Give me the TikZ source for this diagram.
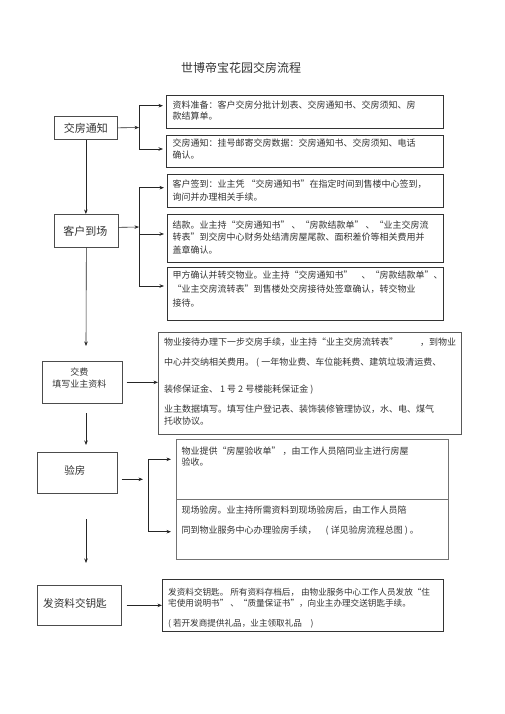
\documentclass[tikz,border=0pt]{standalone}
\usepackage{fontspec}
\setmainfont{Noto Sans CJK SC}
\usetikzlibrary{arrows.meta}
\tikzset{
  lbox/.style={draw=black!70, line width=0.7pt, rectangle, inner sep=0pt, anchor=north west},
  rbox/.style={draw=black!80, line width=0.8pt, rectangle, inner sep=0pt, anchor=north west},
  txt/.style={anchor=north west, inner sep=0pt, align=left, text=black!80},
  ln/.style={draw=black!85, line width=0.6pt},
  arr/.style={ln, -{Stealth[length=4.5pt,width=3.5pt]}},
}
\begin{document}
\begin{tikzpicture}[x=1pt,y=-1pt]
\useasboundingbox[fill=white] (0,0) rectangle (505,714);
% title
\node[inner sep=0pt, font=\fontsize{12}{14}\selectfont, text=black!80] (title) at (241,68) {世博帝宝花园交房流程};

% left boxes
\node[lbox, minimum width=63pt, minimum height=23pt] (L1) at (54,116) {};
\node[inner sep=0pt, font=\fontsize{11}{13}\selectfont, text=black!80] (L1t) at (L1.center) {交房通知};
\node[lbox, minimum width=64pt, minimum height=33pt] (L2) at (54,214) {};
\node[inner sep=0pt, font=\fontsize{11}{13}\selectfont, text=black!80] (L2t) at ([xshift=-1pt]L2.center) {客户到场};
\node[lbox, minimum width=80pt, minimum height=42pt] (L3) at (42,361) {};
\node[inner sep=0pt, align=center, font=\fontsize{9}{12.3}\selectfont, text=black!80] (L3t) at ([xshift=-3pt,yshift=4pt]L3.center) {交费\\填写业主资料};
\node[lbox, minimum width=80pt, minimum height=41pt] (L4) at (37,452) {};
\node[inner sep=0pt, font=\fontsize{10.5}{12}\selectfont, text=black!80] (L4t) at ([xshift=-2.5pt,yshift=2pt]L4.center) {验房};
\node[lbox, minimum width=84pt, minimum height=40pt] (L5) at (37,585) {};
\node[inner sep=0pt, anchor=west, font=\fontsize{10.6}{12}\selectfont, text=black!80] (L5t) at ([xshift=6pt,yshift=2pt]L5.west) {发资料交钥匙};

% right boxes
\node[rbox, minimum width=277pt, minimum height=33pt] (R1) at (166,95) {};
\node[txt, font=\fontsize{9}{11}\selectfont] (R1t) at (172.5,100.5) {资料准备：客户交房分批计划表、交房通知书、交房须知、房\\款结算单。};
\node[rbox, minimum width=277pt, minimum height=32pt] (R2) at (166,135) {};
\node[txt, font=\fontsize{9}{11.7}\selectfont] (R2t) at (172.5,139) {交房通知：挂号邮寄交房数据：交房通知书、交房须知、电话\\确认。};
\node[rbox, minimum width=276pt, minimum height=33pt] (R3) at (167,174) {};
\node[txt, font=\fontsize{9}{13}\selectfont] (R3t) at (172.5,179.5) {客户签到：业主凭 “交房通知书”在指定时间到售楼中心签到，\\询问并办理相关手续。};
\node[rbox, minimum width=276pt, minimum height=48pt] (R4) at (167,214) {};
\node[txt, font=\fontsize{9}{12.5}\selectfont] (R4t) at (172.5,220.5) {结款。业主持“交房通知书” 、“房款结款单” 、“业主交房流\\转表”到交房中心财务处结清房屋尾款、面积差价等相关费用并\\盖章确认。};
\node[rbox, minimum width=276pt, minimum height=53pt] (R5) at (167,267) {};
\node[txt, font=\fontsize{9}{14}\selectfont] (R5t) at (172.5,270.5) {甲方确认并转交物业。业主持“交房通知书”\quad、“房款结款单”、\\“业主交房流转表”到售楼处交房接待处签章确认，转交物业\\接待。};
\node[rbox, draw=black!65, minimum width=303pt, minimum height=102pt] (R6) at (158,332) {};
\node[txt, font=\fontsize{9}{12}\selectfont] (R6t) at (164,337.5) {物业接待办理下一步交房手续，业主持“业主交房流转表”\hspace{22pt}，到物业\\[8pt]中心并交纳相关费用。 ( 一年物业费、车位能耗费、建筑垃圾清运费、\\[15pt]装修保证金、 1 号 2 号楼能耗保证金 )\\[8pt]业主数据填写。填写住户登记表、装饰装修管理协议，水、电、煤气\\托收协议。};
\node[rbox, draw=black!55, minimum width=272pt, minimum height=60pt] (R7a) at (176,439) {};
\node[rbox, draw=black!55, minimum width=272pt, minimum height=60pt] (R7b) at (176,499) {};
\node[txt, font=\fontsize{9}{11}\selectfont] (R7at) at (181.5,447) {物业提供“房屋验收单” ，由工作人员陪同业主进行房屋\\验收。};
\node[txt, font=\fontsize{9}{20}\selectfont] (R7bt) at (181.5,505.5) {现场验房。业主持所需资料到现场验房后，由工作人员陪\\同到物业服务中心办理验房手续，\quad( 详见验房流程总图 ) 。};
\node[rbox, minimum width=281pt, minimum height=52pt] (R8) at (162,579) {};
\node[txt, font=\fontsize{8.6}{11.6}\selectfont] (R8t) at (168,587.5) {发资料交钥匙。 所有资料存档后， 由物业服务中心工作人员发放“住\\宅使用说明书” 、“质量保证书”，向业主办理交送钥匙手续。\\[8pt]( 若开发商提供礼品，业主领取礼品\quad )};

% main vertical line
\coordinate (v2) at (86,346);
\coordinate (v3a) at (86,413);
\coordinate (v3b) at (86,445);
\coordinate (v4a) at (86,519);
\coordinate (v4b) at (86,563);
\draw[arr] (L1.south) -- (L1.south |- L2.north);
\draw[arr] (L2.south) -- (v2);
\draw[arr] (v3a) -- (v3b);
\draw[arr] (v4a) -- (v4b);

% branch 1
\coordinate (j1) at (139,127.5);
\coordinate (a1) at (139,105.7);
\coordinate (a2) at (139,149);
\draw[arr] (L1.east) -- (j1);
\draw[ln] (a1) -- (a2);
\draw[arr, shorten >=3pt] (a1) -- (a1 -| R1.west);
\draw[arr, shorten >=3pt] (a2) -- (a2 -| R2.west);

% branch 2
\coordinate (j2) at (139,227);
\coordinate (b1) at (139,187.7);
\coordinate (b2) at (139,234);
\coordinate (b3) at (139,286);
\draw[arr] ([yshift=3.5pt]L2.east) -- (j2);
\draw[ln] (b1) -- (b3);
\draw[arr, shorten >=3pt] (b1) -- (b1 -| R3.west);
\draw[arr, shorten >=3pt] (b2) -- (b2 -| R4.west);
\draw[arr, shorten >=3pt] (b3) -- (b3 -| R5.west);

% branch 3
\draw[arr, shorten <=4pt] (L3.east) -- (L3.east -| R6.west);

% branch 4
\coordinate (k0) at (121.7,479.3);
\coordinate (k1) at (143,479.3);
\coordinate (c1) at (148.3,459.3);
\coordinate (c2) at (148.3,531.7);
\draw[arr] (k0) -- (k1);
\draw[ln] (c1) -- (c2);
\draw[arr, shorten >=5pt] (c1) -- (c1 -| R7a.west);
\draw[arr, shorten >=5pt] (c2) -- (c2 -| R7b.west);

% branch 5
\draw[arr, shorten <=5pt] (L5.east) -- (L5.east -| R8.west);
\end{tikzpicture}
\end{document}
